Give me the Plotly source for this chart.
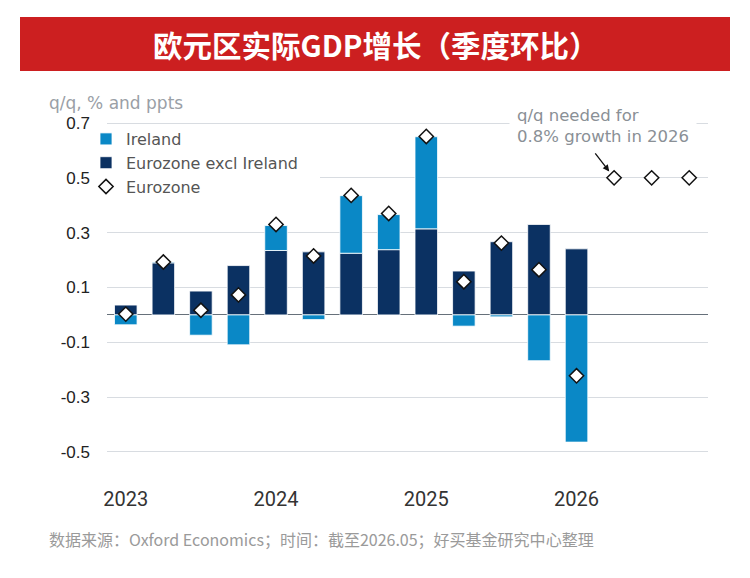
import plotly.graph_objects as go

quarters = ["2023Q1", "2023Q2", "2023Q3", "2023Q4",
            "2024Q1", "2024Q2", "2024Q3", "2024Q4",
            "2025Q1", "2025Q2", "2025Q3", "2025Q4",
            "2026Q1", "2026Q2", "2026Q3", "2026Q4"]
excl_ireland = [0.036, 0.19, 0.087, 0.18, 0.235, 0.23, 0.225, 0.238,
                0.314, 0.16, 0.267, 0.33, 0.241]
ireland = [-0.036, 0.003, -0.074, -0.109, 0.091, -0.017, 0.21, 0.128,
           0.336, -0.041, -0.007, -0.167, -0.464]
eurozone = [0.003, 0.193, 0.017, 0.073, 0.33, 0.215, 0.436, 0.37,
            0.651, 0.121, 0.262, 0.165, -0.222, 0.5, 0.5, 0.5]
year_ticks = ["2023Q1", "2024Q1", "2025Q1", "2026Q1"]
year_labels = ["2023", "2024", "2025", "2026"]
y_ticks = [0.7, 0.5, 0.3, 0.1, -0.1, -0.3, -0.5]
y_labels = ["0.7", "0.5", "0.3", "0.1", "-0.1", "-0.3", "-0.5"]

DARK = "#0b3162"
LIGHT = "#0a88c6"
LEG_FONT = "DejaVu Sans"

L, R, T, B = 107, 708, 120, 455
W, H = 750, 578
PW, PH = R - L, B - T


def px(x):
    return (x - L) / PW


def py(y):
    return (B - y) / PH


fig = go.Figure()
fig.add_trace(go.Bar(x=quarters[:len(excl_ireland)], y=excl_ireland,
                     name="Eurozone excl Ireland", marker=dict(color=DARK, line=dict(color="white", width=0.8)),
                     width=0.6, legendrank=2))
fig.add_trace(go.Bar(x=quarters[:len(ireland)], y=ireland, name="Ireland",
                     marker=dict(color=LIGHT, line=dict(color="white", width=0.8)),
                     width=0.6, legendrank=1))
fig.add_trace(go.Scatter(x=quarters, y=eurozone, name="Eurozone", mode="markers",
                         marker=dict(symbol="diamond", size=11, color="white",
                                     line=dict(color="#111111", width=1.5)),
                         legendrank=3))

fig.update_layout(
    width=W, height=H,
    margin=dict(l=L, r=W - R, t=T, b=H - B),
    paper_bgcolor="white", plot_bgcolor="white",
    barmode="relative",
    showlegend=True,
    legend=dict(x=px(86), y=py(122), xanchor="left", yanchor="top",
                bgcolor="rgba(0,0,0,0)", font=dict(family=LEG_FONT, size=16, color="#555555"),
                traceorder="normal", tracegroupgap=0),
    xaxis=dict(type="category", categoryorder="array", categoryarray=quarters,
               range=[-0.5, 15.5], tickmode="array", tickvals=year_ticks, ticktext=year_labels,
               showgrid=False, zeroline=False, showline=False, ticks="",
               ticklabelstandoff=30,
               tickfont=dict(family="Roboto", size=20, color="#333333")),
    yaxis=dict(range=[-0.511, 0.711], tickmode="array", tickvals=y_ticks, ticktext=y_labels,
               showgrid=True, gridcolor="#d8dce1", gridwidth=1,
               zeroline=True, zerolinecolor="#66707a", zerolinewidth=1,
               showline=False, ticks="", ticklabelstandoff=16,
               tickfont=dict(family="Liberation Sans", size=17, color="#222222")),
    shapes=[
        # title banner
        dict(type="rect", xref="paper", yref="paper", x0=px(20), x1=px(730), y0=py(71), y1=py(17),
             fillcolor="#cc1f20", line=dict(width=0), layer="above"),
        # legend background (hides gridline)
        dict(type="rect", xref="paper", yref="paper", x0=0, x1=px(320), y0=py(203), y1=py(130),
             fillcolor="white", line=dict(width=0), layer="above"),
    ],
    annotations=[
        dict(text="<b>欧元区实际GDP增长（季度环比）</b>", xref="paper", yref="paper",
             x=px(375), y=py(44), xanchor="center", yanchor="middle", showarrow=False,
             font=dict(family="Noto Sans CJK SC", size=29.5, color="white")),
        dict(text="q/q, % and ppts", xref="paper", yref="paper", x=px(47), y=py(103),
             xanchor="left", yanchor="middle", showarrow=False,
             font=dict(family=LEG_FONT, size=17, color="#9aa0a6")),
        dict(text="q/q needed for<br>0.8% growth in 2026", xref="paper", yref="paper",
             x=px(509), y=py(126), xanchor="left", yanchor="middle", align="left",
             showarrow=False, bgcolor="white", borderpad=7,
             font=dict(family=LEG_FONT, size=16.5, color="#8a9096")),
        dict(text="", x="2026Q2", y=0.5, xref="x", yref="y", showarrow=True,
             ax=-20, ay=-26, arrowhead=2, arrowsize=1, arrowwidth=1.3,
             arrowcolor="#111111", standoff=8),
        dict(text="数据来源：Oxford Economics；时间：截至2026.05；好买基金研究中心整理",
             xref="paper", yref="paper", x=px(47), y=py(539), xanchor="left", yanchor="middle",
             showarrow=False, font=dict(family="Noto Sans CJK SC", size=16, color="#9a9a9a")),
    ],
)

fig.write_html("out.html")
